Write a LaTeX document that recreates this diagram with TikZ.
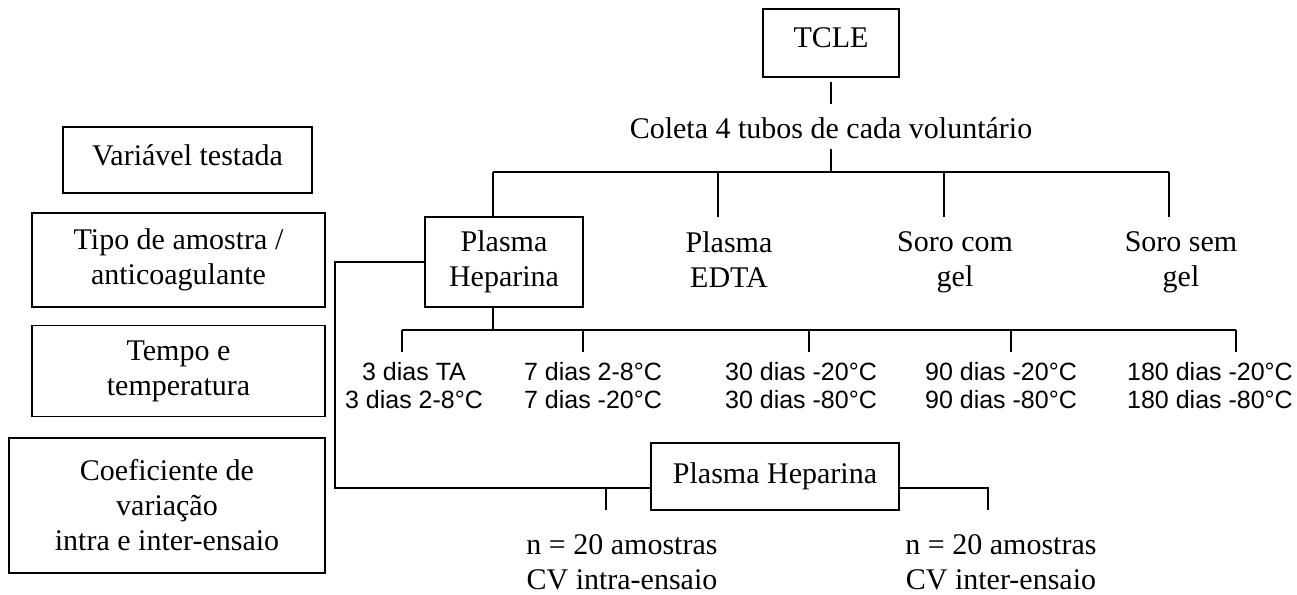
\documentclass[tikz,border=0pt]{standalone}
\usepackage{fontspec}
\setmainfont{Liberation Serif}
\newfontfamily\arialfont{Liberation Sans}
\begin{document}
\begin{tikzpicture}[x=1pt,y=-1pt,
  ln/.style={line width=1.5pt},
  bx/.style={draw,line width=1.6pt,align=center,inner sep=0pt,font=\fontsize{30}{35}\selectfont},
  tx/.style={align=center,inner sep=0pt,font=\fontsize{30}{35}\selectfont},
  dt/.style={align=center,inner sep=0pt,font=\arialfont\fontsize{25}{28}\selectfont}]
\useasboundingbox (0,0) rectangle (1297,594);

% left legend boxes
\node[bx,minimum width=249pt,minimum height=66pt,text depth=10pt] (var) at (187.5,160) {Variável testada};
\node[bx,minimum width=293pt,minimum height=94pt] (tipo) at (178.5,260) {Tipo de amostra /\\anticoagulante};
\node[bx,minimum width=293pt,minimum height=91pt] (tempo) at (178.5,371) {Tempo e\\temperatura};
\node[bx,minimum width=316pt,minimum height=135pt] (coef) at (167,505.5) {Coeficiente de\\variação\\intra e inter-ensaio};

% top of tree
\node[bx,minimum width=136pt,minimum height=68pt,text depth=11pt] (tcle) at (831,43) {TCLE};
\node[tx,anchor=base] (coleta) at (831,138) {Coleta 4 tubos de cada voluntário};
\draw[ln] ([yshift=-4pt]tcle.south) -- ([yshift=13pt]coleta.north);
\coordinate (hub) at (831,172);
\draw[ln] ([yshift=-11pt]coleta.south) -- (hub);

% sample types
\node[bx,minimum width=158pt,minimum height=90pt] (ph) at (504,262) {Plasma\\Heparina};
\node[tx] (edta) at (729,260) {Plasma\\EDTA};
\node[tx] (scg) at (955,262.5) {Soro com\\gel};
\node[tx] (ssg) at (1181,262.5) {Soro sem\\gel};
\coordinate (h1) at (493,172);
\coordinate (h2) at (718,172);
\coordinate (h3) at (944,172);
\coordinate (h4) at (1169,172);
\draw[ln] (h1) -- (h4);
\draw[ln] (h1) -- (h1 |- ph.north);
\draw[ln] (h2) -- ++(0,45);
\draw[ln] (h3) -- ++(0,45);
\draw[ln] (h4) -- ++(0,45);

% time / temperature
\coordinate (phb) at (493,330);
\draw[ln] (ph.south -| phb) -- (phb);
\coordinate (d1) at (402,330);
\coordinate (d2) at (583,330);
\coordinate (d3) at (809,330);
\coordinate (d4) at (1011,330);
\coordinate (d5) at (1236,330);
\draw[ln] (d1) -- (d5);
\foreach \d in {d1,d2,d3,d4,d5} \draw[ln] (\d) -- ++(0,22);
\node[dt] (t1) at (414,386) {3 dias TA\\3 dias 2-8°C};
\node[dt] (t2) at (593,386) {7 dias 2-8°C\\7 dias -20°C};
\node[dt] (t3) at (801,386) {30 dias -20°C\\30 dias -80°C};
\node[dt] (t4) at (1001,386) {90 dias -20°C\\90 dias -80°C};
\node[dt] (t5) at (1210,386) {180 dias -20°C\\180 dias -80°C};

% CV branch
\node[bx,minimum width=248pt,minimum height=67pt] (ph2) at (775,476.5) {Plasma Heparina};
\coordinate (bl) at (335,488);
\coordinate (cL) at (606,510);
\coordinate (cR) at (988,510);
\draw[ln] (ph.west) -| (bl) -- (bl -| ph2.west);
\draw[ln] (cL |- bl) -- (cL);
\draw[ln] (bl -| ph2.east) -| (cR);
\node[tx] (intra) at (622,562) {n = 20 amostras\\CV intra-ensaio};
\node[tx] (inter) at (1001,562) {n = 20 amostras\\CV inter-ensaio};
\end{tikzpicture}
\end{document}
